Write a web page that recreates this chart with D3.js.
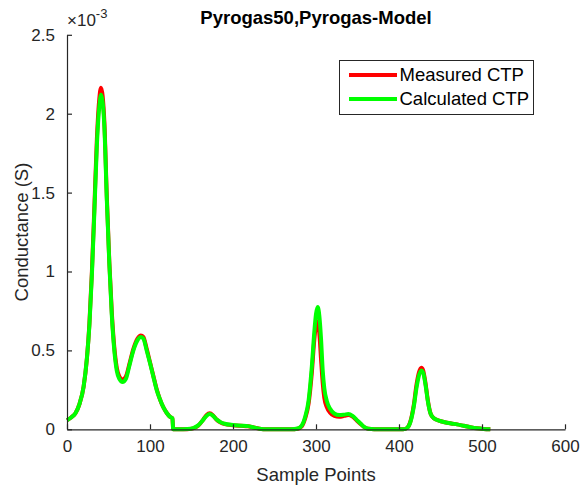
<!DOCTYPE html>
<html>
<head>
<meta charset="utf-8">
<script src="https://cdn.jsdelivr.net/npm/d3@7"></script>
<style>
  html, body { margin: 0; padding: 0; background: #ffffff; }
  svg { display: block; }
</style>
</head>
<body>
<svg id="chart" width="582" height="488"></svg>
<script>
// ---- data (values in units of 1e-3 S) ----
const titleText = "Pyrogas50,Pyrogas-Model";
const xLabelText = "Sample Points";
const yLabelText = "Conductance (S)";
const seriesNames = ["Measured CTP", "Calculated CTP"];
const xTicks = [0, 100, 200, 300, 400, 500, 600];
const yTicks = [0, 0.5, 1, 1.5, 2, 2.5];
const yExponent = -3;

const samples = [0, 5, 10, 15, 20, 24, 27, 30, 33, 36, 39, 41, 43, 45, 48, 51, 54, 57, 60, 63, 67, 71, 75, 80, 85, 89, 92, 96, 100, 104, 108, 112, 116, 120, 124, 127, 128, 135, 145, 152, 158, 164, 168, 172, 176, 180, 185, 190, 200, 210, 218, 225, 232, 240, 270, 278, 283, 287, 291, 295, 298, 300, 302, 304, 306, 308, 310, 313, 317, 322, 328, 334, 339, 344, 349, 354, 358, 363, 370, 405, 410, 414, 418, 421, 424, 427, 429, 432, 435, 438, 442, 448, 455, 463, 470, 478, 486, 494, 502, 510];

const measured = [0.058, 0.075, 0.10, 0.16, 0.27, 0.45, 0.67, 1.00, 1.41, 1.84, 2.10, 2.165, 2.11, 1.95, 1.47, 1.06, 0.74, 0.52, 0.39, 0.335, 0.315, 0.335, 0.41, 0.51, 0.575, 0.595, 0.585, 0.51, 0.425, 0.34, 0.255, 0.19, 0.14, 0.105, 0.08, 0.07, 0.0, 0.0, 0.001, 0.006, 0.022, 0.06, 0.09, 0.102, 0.088, 0.062, 0.043, 0.033, 0.026, 0.022, 0.019, 0.011, 0.004, 0.0, 0.0, 0.004, 0.02, 0.07, 0.16, 0.36, 0.57, 0.66, 0.685, 0.61, 0.45, 0.30, 0.20, 0.14, 0.105, 0.085, 0.08, 0.085, 0.09, 0.08, 0.056, 0.032, 0.014, 0.003, 0.0, 0.0, 0.01, 0.055, 0.16, 0.28, 0.36, 0.39, 0.375, 0.29, 0.175, 0.10, 0.07, 0.055, 0.045, 0.037, 0.031, 0.022, 0.013, 0.006, 0.002, 0.0];

const calculated = [0.058, 0.075, 0.10, 0.16, 0.27, 0.45, 0.66, 0.98, 1.38, 1.80, 2.05, 2.12, 2.07, 1.92, 1.45, 1.05, 0.72, 0.50, 0.37, 0.32, 0.30, 0.32, 0.40, 0.50, 0.565, 0.585, 0.575, 0.50, 0.42, 0.335, 0.25, 0.19, 0.14, 0.105, 0.08, 0.07, 0.0, 0.0, 0.002, 0.008, 0.025, 0.06, 0.085, 0.097, 0.085, 0.063, 0.045, 0.035, 0.027, 0.023, 0.02, 0.012, 0.004, 0.0, 0.0, 0.005, 0.025, 0.08, 0.18, 0.40, 0.62, 0.73, 0.775, 0.72, 0.58, 0.38, 0.26, 0.18, 0.13, 0.10, 0.09, 0.093, 0.097, 0.085, 0.06, 0.035, 0.015, 0.003, 0.0, 0.0, 0.01, 0.05, 0.15, 0.26, 0.34, 0.372, 0.36, 0.28, 0.17, 0.10, 0.07, 0.055, 0.045, 0.037, 0.031, 0.022, 0.013, 0.006, 0.002, 0.0];

const seriesColors = ["#ff0000", "#00ff00"];

// ---- layout ----
const svg = d3.select("#chart");
const plotLeft = 67, plotRight = 565, plotTop = 34.8, plotBottom = 429.3;
const axisColor = "#262626";
const font = "Arial, 'Liberation Sans', Helvetica, sans-serif";

const x = d3.scaleLinear().domain([0, 600]).range([plotLeft, plotRight]);
const y = d3.scaleLinear().domain([0, 2.5]).range([plotBottom, plotTop]);

// lines
const line = d3.line()
  .x((d, i) => x(samples[i]))
  .y(d => y(d))
  .curve(d3.curveMonotoneX);

[measured, calculated].forEach((vals, k) => {
  svg.append("path")
    .datum(vals)
    .attr("d", line)
    .attr("fill", "none")
    .attr("stroke", seriesColors[k])
    .attr("stroke-width", 4)
    .attr("stroke-linejoin", "round")
    .attr("stroke-linecap", "butt");
});

// axes
const xAxis = d3.axisBottom(x).tickValues(xTicks).tickSizeInner(-5).tickSizeOuter(0).tickPadding(11).tickFormat(d3.format("d"));
const yAxis = d3.axisLeft(y).tickValues(yTicks).tickSizeInner(-5).tickSizeOuter(0).tickPadding(12).tickFormat(d => String(d));

const gx = svg.append("g").attr("transform", `translate(0,${plotBottom})`).call(xAxis);
const gy = svg.append("g").attr("transform", `translate(${plotLeft},0)`).call(yAxis);

[gx, gy].forEach(g => {
  g.select(".domain").attr("stroke", axisColor).attr("stroke-width", 1.2);
  g.selectAll(".tick line").attr("stroke", axisColor).attr("stroke-width", 1.2);
  g.selectAll(".tick text").attr("fill", axisColor).attr("font-family", font).attr("font-size", 17);
});

// exponent label
const expText = svg.append("text")
  .attr("x", plotLeft)
  .attr("y", 26)
  .attr("font-family", font)
  .attr("font-size", 17)
  .attr("fill", axisColor);
expText.append("tspan").text("\u00d710");
expText.append("tspan").attr("dy", -8).attr("font-size", 13).text("-3");

// title
svg.append("text")
  .attr("x", (plotLeft + plotRight) / 2)
  .attr("y", 24)
  .attr("text-anchor", "middle")
  .attr("font-family", font)
  .attr("font-weight", "bold")
  .attr("font-size", 18.5)
  .attr("fill", "#000")
  .text(titleText);

// axis labels
svg.append("text")
  .attr("x", (plotLeft + plotRight) / 2)
  .attr("y", 481)
  .attr("text-anchor", "middle")
  .attr("font-family", font)
  .attr("font-size", 18.5)
  .attr("fill", axisColor)
  .text(xLabelText);

svg.append("text")
  .attr("transform", `translate(28,${(plotTop + plotBottom) / 2}) rotate(-90)`)
  .attr("text-anchor", "middle")
  .attr("font-family", font)
  .attr("font-size", 18.5)
  .attr("fill", axisColor)
  .text(yLabelText);

// legend
const lg = svg.append("g");
lg.append("rect")
  .attr("x", 339.5).attr("y", 60.5).attr("width", 194).attr("height", 54)
  .attr("fill", "#fff").attr("stroke", axisColor).attr("stroke-width", 1);
seriesNames.forEach((name, i) => {
  const yy = 75 + i * 24;
  lg.append("line")
    .attr("x1", 349).attr("x2", 397).attr("y1", yy).attr("y2", yy)
    .attr("stroke", seriesColors[i]).attr("stroke-width", 4);
  lg.append("text")
    .attr("x", 399.5).attr("y", yy).attr("dy", "0.35em")
    .attr("font-family", font).attr("font-size", 18.5).attr("fill", "#000")
    .text(name);
});
</script>
</body>
</html>
